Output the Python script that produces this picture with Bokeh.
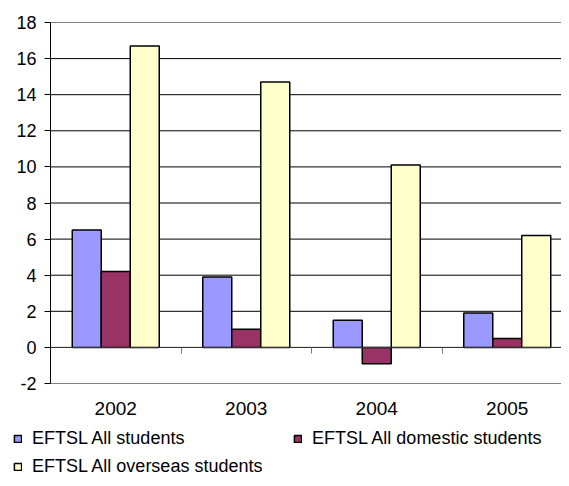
from bokeh.plotting import figure
from bokeh.models import (ColumnDataSource, Range1d, LinearAxis, FixedTicker, Grid,
                          Legend, LegendItem)
from bokeh.embed import file_html
from bokeh.resources import INLINE

# ---- data ----
years = ["2002", "2003", "2004", "2005"]
all_students = [6.5, 3.9, 1.5, 1.9]
domestic_students = [4.2, 1.0, -0.9, 0.5]
overseas_students = [16.7, 14.7, 10.1, 6.2]
series_names = ["EFTSL All students", "EFTSL All domestic students", "EFTSL All overseas students"]
series_colors = ["#9999FF", "#993366", "#FFFFCC"]
y_ticks = [-2, 0, 2, 4, 6, 8, 10, 12, 14, 16, 18]

FONT = "Liberation Sans"
FS = "18px"

# frame covers the whole canvas; the chart area is placed inside it through the ranges
W, H = 561, 478
px_x = 130.5   # pixels per category
px_y = 18.05   # pixels per unit
left, top = 50, 22
x_range = Range1d(-left / px_x, (W - left) / px_x)
y_range = Range1d(y_ticks[-1] - (H - top) / px_y, y_ticks[-1] + top / px_y)

p = figure(width=W, height=H, output_backend="svg", toolbar_location=None,
           x_axis_location=None, y_axis_location=None,
           x_range=x_range, y_range=y_range,
           min_border_left=0, min_border_top=0, min_border_right=0, min_border_bottom=0)
p.center = [r for r in p.center if not isinstance(r, Grid)]
p.outline_line_color = None
p.background_fill_color = "white"

n = len(years)

# horizontal gridlines across the category area
grid_src = ColumnDataSource(dict(
    y=y_ticks, x0=[0] * len(y_ticks), x1=[n] * len(y_ticks),
    c=["#808080" if t in (y_ticks[0], y_ticks[-1]) else "#000000" for t in y_ticks]))
p.segment(x0="x0", y0="y", x1="x1", y1="y", line_color="c", line_width=1, source=grid_src)

# bars
centers = [i + 0.5 for i in range(n)]
bw = 0.2222
offsets = [-bw, 0.0, bw]
renderers = []
for vals, off, col in zip([all_students, domestic_students, overseas_students], offsets, series_colors):
    src = ColumnDataSource(dict(x=[c + off for c in centers], top=vals))
    r = p.vbar(x="x", top="top", bottom=0, width=bw, source=src, fill_color=col,
               line_color="black", line_width=1.5)
    renderers.append(r)

# y axis at x = 0
yaxis = LinearAxis(fixed_location=0, bounds=(y_ticks[0], y_ticks[-1]),
                   ticker=FixedTicker(ticks=y_ticks), axis_line_color="black", axis_line_width=1,
                   major_tick_line_color="black", major_tick_out=6, major_tick_in=0,
                   minor_tick_line_color=None, major_label_standoff=8,
                   major_label_text_font=FONT, major_label_text_font_size=FS,
                   major_label_text_color="black",
                   major_label_overrides={t: str(t) for t in y_ticks})
p.add_layout(yaxis, "left")

# zero axis with category boundary ticks
bounds = list(range(n + 1))
zaxis = LinearAxis(fixed_location=0, bounds=(0, n), ticker=FixedTicker(ticks=bounds),
                   axis_line_color="#333333", axis_line_width=1,
                   major_tick_line_color="#777777", major_tick_out=6, major_tick_in=0,
                   minor_tick_line_color=None, major_label_standoff=0,
                   major_label_overrides={b: "" for b in bounds})
p.add_layout(zaxis, "below")

# category labels below the bottom of the chart area
xaxis = LinearAxis(fixed_location=y_ticks[0], ticker=FixedTicker(ticks=centers),
                   axis_line_color=None,
                   major_tick_line_color=None, major_tick_out=0, major_tick_in=0,
                   minor_tick_line_color=None, major_label_standoff=18,
                   major_label_text_font=FONT, major_label_text_font_size="19px",
                   major_label_text_color="black",
                   major_label_overrides={c: y for c, y in zip(centers, years)})
p.add_layout(xaxis, "below")

# legend: column-major fill, so this order gives row 1 = [all, domestic], row 2 = [overseas]
order = [0, 2, 1]
legend = Legend(items=[LegendItem(label=series_names[i], renderers=[renderers[i]]) for i in order],
                location=(13, 1), ncols=2, glyph_width=9, glyph_height=9,
                label_standoff=10, label_width=254, label_height=20, spacing=7,
                padding=0, margin=0,
                border_line_color=None, background_fill_alpha=0,
                label_text_font=FONT, label_text_font_size=FS, label_text_color="black")
p.add_layout(legend, "center")

open("out.html", "w").write(file_html(p, INLINE))
